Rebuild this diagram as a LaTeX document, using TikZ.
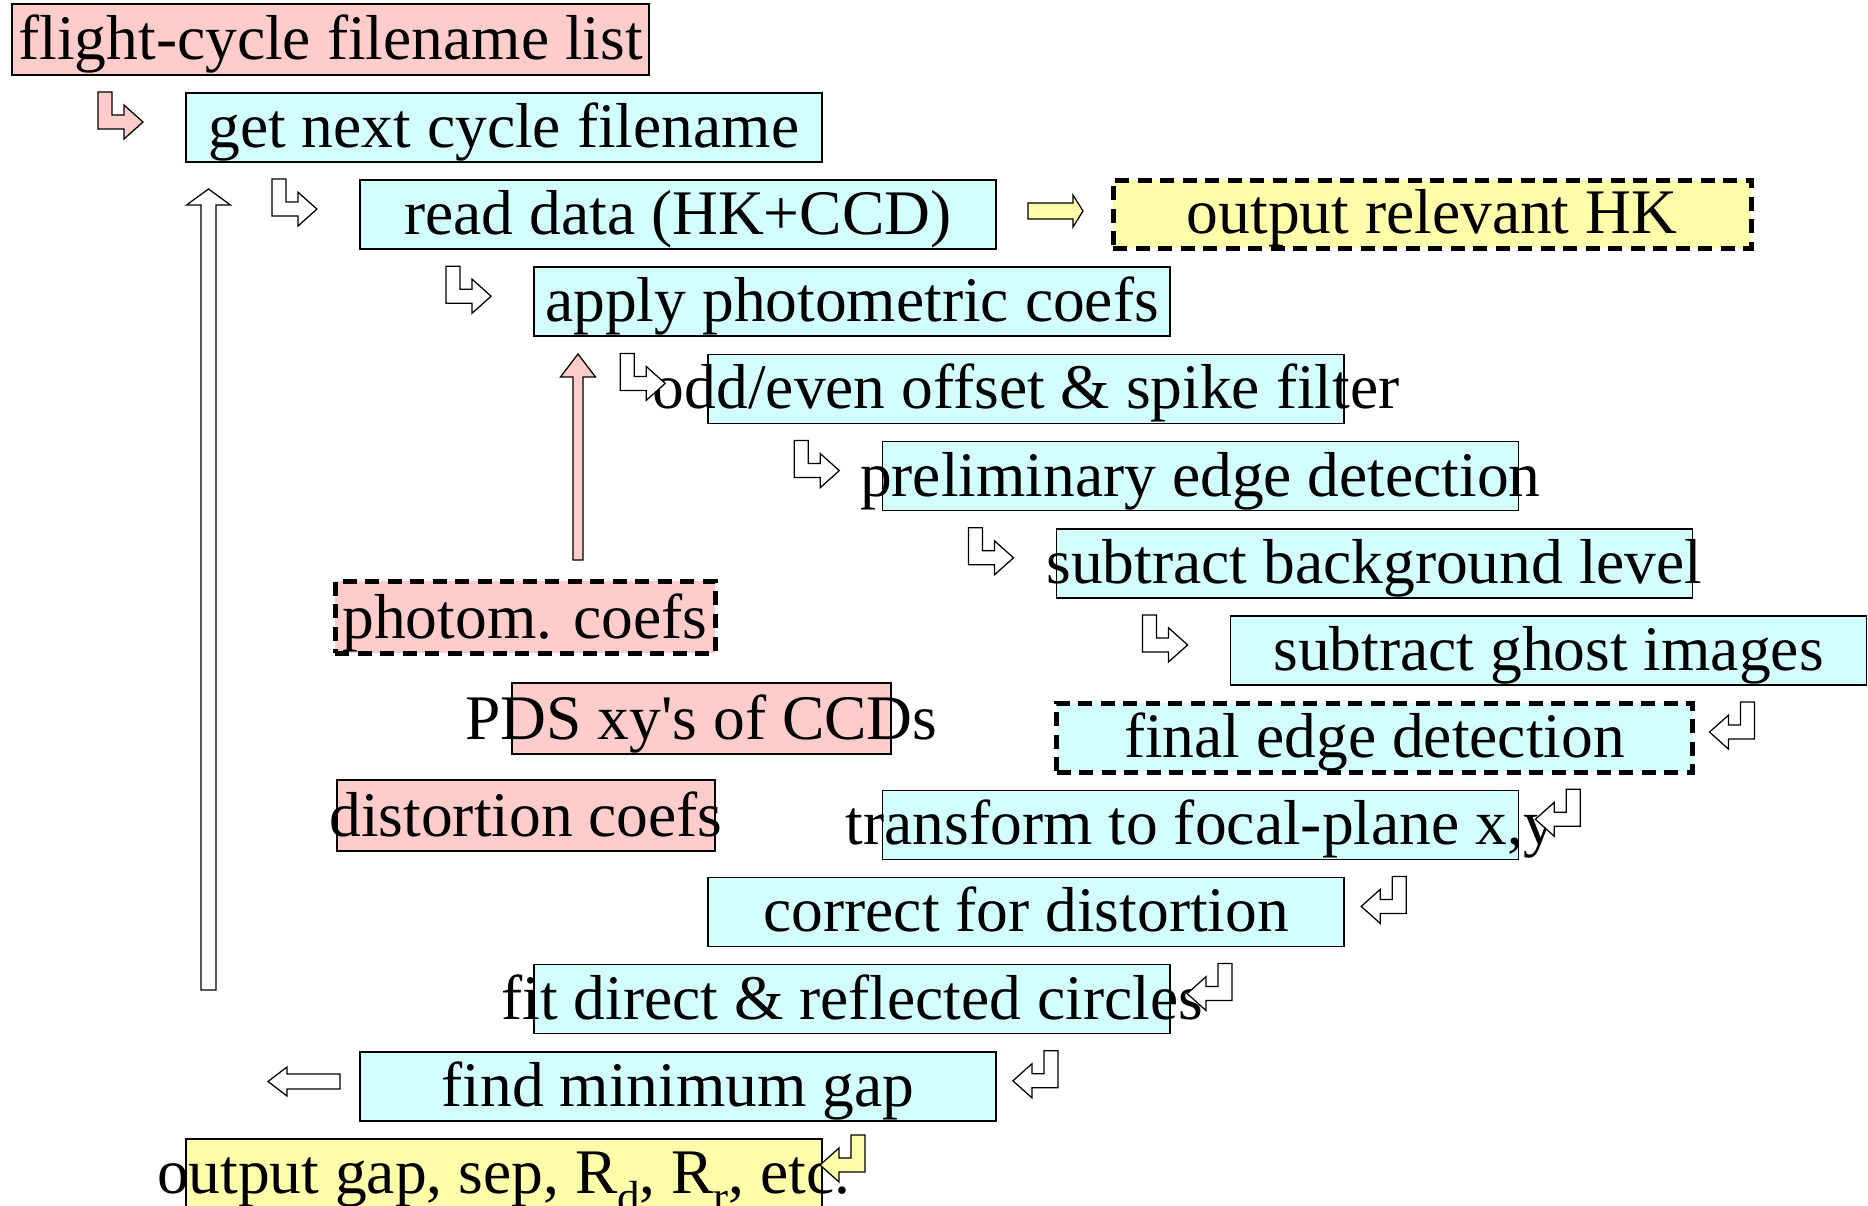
\documentclass[tikz,border=0pt]{standalone}
\usepackage{fontspec}
\setmainfont{Liberation Serif}
\usetikzlibrary{fit}
\definecolor{pinkf}{HTML}{FFCCCC}
\definecolor{cyanf}{HTML}{D2FEFE}
\definecolor{yellf}{HTML}{FFFCAA}
\tikzset{
  box/.style={draw=black, line width=0.6pt, inner sep=0pt, outer sep=0pt},
  dbox/.style={draw=black, line width=2pt, dash pattern=on 5.6pt off 3.4pt, inner sep=0pt, outer sep=0pt},
  txt/.style={anchor=base, inner sep=0pt, font=\fontsize{25.4pt}{30pt}\selectfont},
  blk/.style={draw=black, line width=0.5pt, fill=white, line join=miter},
}
\newcommand\bentarrow[3][white]{%
  \draw[blk, fill=#1] (#2,#3) -- ++(14,0) -- ++(0,23) -- ++(12,0) -- ++(0,-10)
    -- ++(19,17) -- ++(-19,17) -- ++(0,-10) -- ++(-26,0) -- cycle;}
\newcommand\retarrow[3][white]{%
  \draw[blk, fill=#1] (#2,#3) -- ++(-14,0) -- ++(0,23) -- ++(-12,0) -- ++(0,-10)
    -- ++(-19,17) -- ++(19,17) -- ++(0,-10) -- ++(26,0) -- cycle;}
\newcommand\lowsub[1]{\raisebox{-7.5pt}{\fontsize{18pt}{20pt}\selectfont #1}}
\begin{document}
\begin{tikzpicture}[x=0.4pt,y=-0.4pt]
\fill[white] (0,0) rectangle (1868,1206);
\useasboundingbox (0,0) rectangle (1868,1206);

% boxes
\node[box, fill=pinkf, fit={(12,4) (649,75)}] (flight) {};
\node[box, fill=cyanf, fit={(185.8,92.9) (821.8,161.9)}] (getnext) {};
\node[box, fill=cyanf, fit={(359.9,180.1) (995.9,249.1)}] (readdata) {};
\node[dbox, fill=yellf, fit={(1113,180) (1751,248)}] (outhk) {};
\node[box, fill=cyanf, fit={(534.1,267.2) (1170.1,336.2)}] (apply) {};
\node[box, fill=cyanf, fit={(708.2,354.4) (1344.2,423.4)}] (oddeven) {};
\node[box, fill=cyanf, fit={(882.3,441.6) (1518.3,510.6)}] (prelim) {};
\node[box, fill=cyanf, fit={(1056.5,528.8) (1692.5,597.8)}] (subbg) {};
\node[box, fill=cyanf, fit={(1230.6,615.9) (1866.6,684.9)}] (ghost) {};
\node[dbox, fill=cyanf, fit={(1056.5,703.1) (1692.5,772.1)}] (final) {};
\node[box, fill=cyanf, fit={(882.3,790.3) (1518.3,859.3)}] (transform) {};
\node[box, fill=cyanf, fit={(708.2,877.4) (1344.2,946.4)}] (correct) {};
\node[box, fill=cyanf, fit={(534.1,964.6) (1170.1,1033.6)}] (fitc) {};
\node[box, fill=cyanf, fit={(359.9,1051.8) (995.9,1120.8)}] (findgap) {};
\node[box, fill=yellf, fit={(185.8,1138.9) (821.8,1207.9)}] (outgap) {};
\node[dbox, fill=pinkf, fit={(335,581) (715,653)}] (photom) {};
\node[box, fill=pinkf, fit={(512,683) (891,754)}] (pds) {};
\node[box, fill=pinkf, fit={(337,780) (715,851)}] (distort) {};

% texts
\node[txt] (flight-t) at ([yshift=6pt]flight.south) {flight-cycle filename list};
\node[txt] (getnext-t) at ([yshift=5.8pt]getnext.south) {get next cycle filename};
\node[txt] (readdata-t) at ([yshift=5.8pt]readdata.south) {read data (HK+CCD)};
\node[txt] (outhk-t) at ([yshift=5.8pt]outhk.south) {output relevant HK};
\node[txt] (apply-t) at ([yshift=5.8pt]apply.south) {apply photometric coefs};
\node[txt] (oddeven-t) at ([yshift=5.8pt]oddeven.south) {odd/even offset \& spike filter};
\node[txt] (prelim-t) at ([yshift=5.8pt]prelim.south) {preliminary edge detection};
\node[txt] (subbg-t) at ([yshift=5.8pt]subbg.south) {subtract background level};
\node[txt] (ghost-t) at ([yshift=5.8pt]ghost.south) {subtract ghost images};
\node[txt] (final-t) at ([yshift=5.8pt]final.south) {final edge detection};
\node[txt] (transform-t) at ([yshift=5.8pt]transform.south) {transform to focal-plane x,y};
\node[txt] (correct-t) at ([yshift=5.8pt]correct.south) {correct for distortion};
\node[txt] (fitc-t) at ([yshift=5.8pt]fitc.south) {fit direct \& reflected circles};
\node[txt] (findgap-t) at ([yshift=5.8pt]findgap.south) {find minimum gap};
\node[txt] (outgap-t) at ([yshift=5.8pt]outgap.south) {output gap, sep, R\lowsub{d}, R\lowsub{r}, etc.};
\node[txt] (photom-t) at ([yshift=6pt]photom.south) {photom. coefs};
\node[txt] (pds-t) at ([yshift=6pt]pds.south) {PDS xy\textquotesingle s of CCDs};
\node[txt] (distort-t) at ([yshift=6pt]distort.south) {distortion coefs};

% bent arrows (down then right)
\bentarrow[pinkf]{98}{92}
\bentarrow{271.9}{179.1}
\bentarrow{446.1}{266.2}
\bentarrow{620.2}{353.4}
\bentarrow{794.3}{440.6}
\bentarrow{968.5}{527.8}
\bentarrow{1142.6}{614.9}

% return arrows (down then left)
\retarrow{1754.5}{702.1}
\retarrow{1580.3}{789.3}
\retarrow{1406.2}{876.4}
\retarrow{1232.1}{963.6}
\retarrow{1057.9}{1050.8}
\retarrow[yellf]{865}{1135}

% straight block arrows
\draw[blk] (208.5,189) -- (230.5,205) -- (216,205) -- (216,990) -- (201,990) -- (201,205) -- (186.5,205) -- cycle;
\draw[blk, fill=pinkf] (578,354) -- (595.5,377) -- (583,377) -- (583,560) -- (573,560) -- (573,377) -- (560.5,377) -- cycle;
\draw[blk, fill=yellf] (1028,203) -- (1073,203) -- (1073,195) -- (1083,211) -- (1073,227) -- (1073,219) -- (1028,219) -- cycle;
\draw[blk] (268,1081.5) -- (287,1067) -- (287,1074) -- (340,1074) -- (340,1089) -- (287,1089) -- (287,1096) -- cycle;
\end{tikzpicture}
\end{document}
